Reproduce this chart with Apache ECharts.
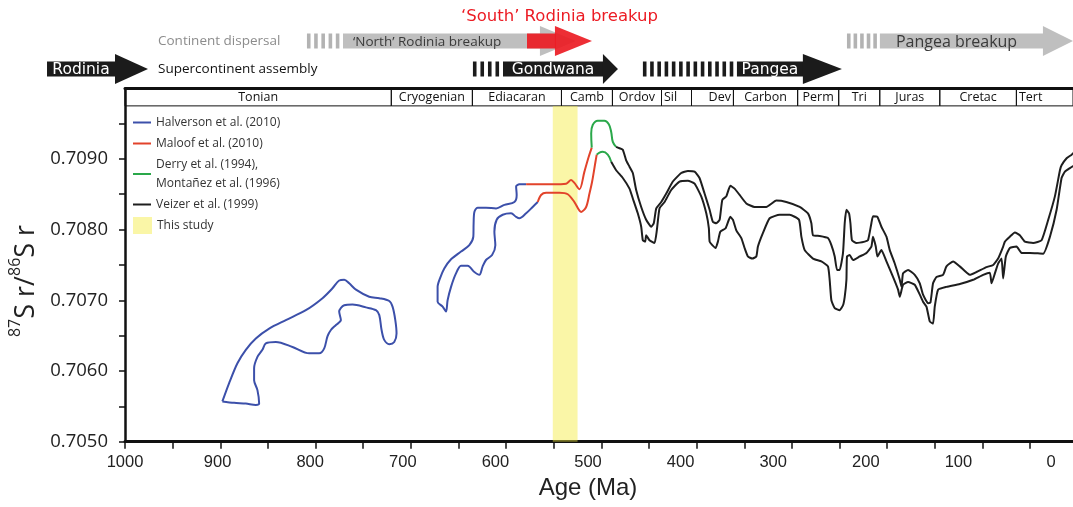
<!DOCTYPE html>
<html>
<head>
<meta charset="utf-8">
<script src="https://cdn.jsdelivr.net/npm/echarts@6/dist/echarts.min.js"></script>
<style>
  html, body { margin: 0; padding: 0; background: #fff; }
  #main { width: 1073px; height: 507px; }
</style>
</head>
<body>
<div id="main"></div>
<script>
// age (Ma), 87Sr/86Sr
const halversonA = [[897.8,0.70557],[890.7,0.70583],[882.0,0.70611],[873.2,0.70630],[862.7,0.70646],[848.7,0.70660],[831.2,0.70672],[810.2,0.70686],[792.7,0.70703],[782.2,0.70717],[775.2,0.70728],[769.9,0.70729],[764.7,0.70724],[757.6,0.70715],[743.7,0.70705],[733.1,0.70703],[722.6,0.70699],[719.2,0.70691],[716.3,0.70672],[715.0,0.70653],[717.4,0.70641],[722.6,0.70638],[727.9,0.70644],[730.7,0.70658],[733.1,0.70679],[736.6,0.70686],[747.1,0.70690],[761.2,0.70694],[769.9,0.70693],[775.2,0.70684],[773.4,0.70672],[778.6,0.70665],[783.9,0.70658],[787.5,0.70649],[790.9,0.70632],[796.2,0.70625],[806.7,0.70625],[824.2,0.70634],[841.7,0.70641],[852.2,0.70639],[855.8,0.70630],[861.0,0.70620],[864.5,0.70604],[864.5,0.70587],[861.0,0.70573],[859.2,0.70554],[862.7,0.70552],[873.2,0.70554],[885.5,0.70555],[897.8,0.70557]];
const halversonB = [[579.0,0.70864],[586.1,0.70864],[589.5,0.70861],[588.9,0.70849],[591.3,0.70839],[601.8,0.70835],[610.5,0.70830],[621.1,0.70831],[629.9,0.70831],[633.3,0.70825],[634.1,0.70809],[634.4,0.70790],[638.6,0.70778],[647.3,0.70769],[657.8,0.70758],[664.9,0.70745],[669.4,0.70731],[671.9,0.70719],[671.9,0.70710],[671.9,0.70698],[666.6,0.70691],[663.1,0.70684],[661.4,0.70700],[657.8,0.70719],[652.6,0.70738],[647.3,0.70749],[640.4,0.70749],[633.3,0.70740],[628.1,0.70736],[624.6,0.70748],[621.1,0.70757],[614.7,0.70764],[611.3,0.70778],[612.3,0.70797],[609.9,0.70814],[603.6,0.70821],[594.8,0.70823],[589.5,0.70818],[586.1,0.70816],[579.0,0.70823],[572.1,0.70832],[566.8,0.70839]];
const maloofUpper = [[579.0,0.70864],[551.1,0.70864],[537.0,0.70865],[531.8,0.70870],[528.3,0.70866],[523.0,0.70857],[517.8,0.70882],[513.3,0.70903],[510.1,0.70916]];
const maloofLower = [[566.8,0.70839],[563.3,0.70849],[558.0,0.70852],[544.0,0.70852],[535.3,0.70850],[528.3,0.70839],[521.2,0.70825],[516.0,0.70832],[512.5,0.70851],[509.7,0.70868],[506.2,0.70896],[504.9,0.70906]];
const derryUpper = [[510.1,0.70916],[510.7,0.70936],[509.1,0.70948],[503.8,0.70954],[496.8,0.70954],[492.2,0.70949],[489.7,0.70938],[488.0,0.70924],[484.5,0.70917]];
const derryLower = [[504.9,0.70906],[502.0,0.70909],[498.6,0.70910],[493.3,0.70906],[489.7,0.70896]];
const veizerUpper = [[484.5,0.70917],[481.0,0.70915],[477.5,0.70913],[474.0,0.70898],[470.5,0.70889],[467.0,0.70880],[463.5,0.70856],[458.2,0.70832],[453.0,0.70814],[447.7,0.70804],[445.0,0.70809],[442.4,0.70830],[437.2,0.70839],[431.9,0.70851],[425.0,0.70868],[416.2,0.70880],[409.2,0.70883],[402.2,0.70882],[397.0,0.70873],[391.7,0.70851],[386.4,0.70828],[383.0,0.70811],[379.4,0.70809],[375.9,0.70814],[373.1,0.70842],[368.9,0.70847],[364.7,0.70862],[360.2,0.70858],[354.9,0.70849],[347.9,0.70837],[339.2,0.70832],[326.9,0.70832],[316.4,0.70841],[305.9,0.70839],[291.9,0.70832],[283.2,0.70823],[279.6,0.70809],[277.9,0.70792],[270.9,0.70791],[262.2,0.70788],[258.6,0.70778],[255.1,0.70762],[252.7,0.70743],[249.9,0.70743],[246.4,0.70767],[244.6,0.70809],[242.8,0.70828],[240.1,0.70823],[238.6,0.70809],[237.0,0.70785],[232.3,0.70781],[223.6,0.70783],[220.1,0.70785],[216.6,0.70809],[214.9,0.70819],[210.3,0.70818],[206.1,0.70804],[200.8,0.70790],[197.3,0.70771],[192.1,0.70752],[186.8,0.70729],[185.0,0.70719],[183.4,0.70738],[178.1,0.70743],[171.1,0.70736],[165.8,0.70724],[162.4,0.70708],[157.1,0.70696],[154.6,0.70697],[151.9,0.70724],[148.3,0.70733],[141.4,0.70736],[137.8,0.70748],[130.8,0.70755],[123.8,0.70748],[113.3,0.70736],[106.3,0.70740],[95.8,0.70747],[88.8,0.70750],[83.6,0.70759],[78.3,0.70776],[76.5,0.70783],[71.3,0.70790],[66.0,0.70796],[60.8,0.70792],[55.5,0.70783],[46.8,0.70781],[38.0,0.70785],[31.0,0.70814],[24.0,0.70847],[18.7,0.70884],[17.0,0.70891],[11.7,0.70901],[6.4,0.70906],[0,0.70914]];
const veizerLower = [[489.7,0.70896],[484.5,0.70884],[477.5,0.70873],[470.5,0.70858],[467.0,0.70844],[461.8,0.70823],[458.2,0.70804],[456.5,0.70785],[454.0,0.70783],[453.0,0.70792],[449.5,0.70785],[444.2,0.70781],[441.8,0.70799],[439.0,0.70830],[433.7,0.70839],[426.7,0.70856],[418.0,0.70868],[409.2,0.70869],[402.2,0.70865],[395.2,0.70847],[389.9,0.70823],[387.2,0.70802],[386.4,0.70783],[383.6,0.70778],[380.1,0.70774],[377.7,0.70783],[375.2,0.70797],[369.6,0.70802],[364.7,0.70818],[362.0,0.70814],[358.4,0.70799],[353.1,0.70788],[349.7,0.70774],[346.2,0.70762],[341.6,0.70759],[337.4,0.70762],[335.7,0.70776],[330.5,0.70795],[323.4,0.70816],[312.9,0.70821],[302.4,0.70821],[292.6,0.70814],[290.1,0.70790],[286.6,0.70771],[277.9,0.70759],[269.1,0.70755],[262.2,0.70748],[260.4,0.70729],[258.6,0.70700],[255.1,0.70689],[249.9,0.70686],[246.4,0.70693],[244.6,0.70705],[242.8,0.70729],[242.2,0.70762],[239.4,0.70764],[235.9,0.70757],[228.9,0.70762],[221.8,0.70767],[216.6,0.70776],[214.9,0.70790],[212.0,0.70776],[210.3,0.70762],[206.1,0.70771],[200.8,0.70755],[193.9,0.70733],[188.6,0.70715],[186.8,0.70705],[183.4,0.70722],[178.1,0.70726],[171.1,0.70722],[165.8,0.70708],[162.4,0.70698],[158.8,0.70691],[155.3,0.70670],[151.9,0.70667],[150.1,0.70691],[146.6,0.70715],[137.8,0.70719],[123.8,0.70723],[109.8,0.70729],[99.3,0.70736],[92.3,0.70739],[90.5,0.70724],[87.0,0.70738],[83.6,0.70752],[80.0,0.70759],[78.3,0.70731],[75.5,0.70762],[71.3,0.70774],[64.2,0.70776],[59.0,0.70767],[50.3,0.70767],[36.3,0.70766],[29.2,0.70790],[22.2,0.70828],[17.0,0.70873],[13.5,0.70882],[8.2,0.70887],[0,0.70894]];

// geological periods (Ma) as drawn in the header row
const periodNames = ['Tonian','Cryogenian','Ediacaran','Camb','Ordov','Sil','Dev','Carbon','Perm','Tri','Juras','Cretac','Tert'];
const periodStart = [1000, 720.5, 635.4, 541.9, 488.4, 436.9, 405.4, 361.4, 294.0, 250.9, 207.8, 144.8, 64.4];
const periodEnd = [720.5, 635.4, 541.9, 488.4, 436.9, 405.4, 361.4, 294.0, 250.9, 207.8, 144.8, 64.4, 0];

const studyBand = [551, 525];

// tectonic arrows: dashed start, solid start, body end, tip (Ma)
const arrowNames = ['Rodinia', 'Gondwana', 'Pangea', "\u2018North\u2019 Rodinia breakup", "\u2018South\u2019 Rodinia breakup", 'Pangea breakup'];
const arrowRows = [1, 1, 1, 0, 0, 0];
const arrowDashStart = [1083, 635.5, 456.9, 809.9, 578.7, 242.5];
const arrowBarStart = [1083, 603.9, 358.1, 772.0, 578.7, 207.9];
const arrowBodyEnd = [1011.6, 498.9, 288.8, 565.1, 549.3, 36.6];
const arrowTip = [976.9, 483.1, 247.8, 527.3, 510.4, 5];
const arrowKinds = ['assembly', 'assembly', 'assembly', 'dispersal', 'south', 'dispersal'];
const rowNames = ['Continent dispersal', 'Supercontinent assembly'];

const xTicks = [50,100,150,200,250,300,350,400,450,500,550,600,650,700,750,800,850,900,950,1000];
const xLabels = [0,100,200,300,400,500,600,700,800,900,1000];
const yTicks = [0.7050,0.7055,0.7060,0.7065,0.7070,0.7075,0.7080,0.7085,0.7090,0.7095];
const yLabels = [0.7050,0.7060,0.7070,0.7080,0.7090];

const SANS = "'Open Sans', 'Noto Sans', sans-serif";
const NARROW = "'Liberation Sans', Arial, sans-serif";
const WIDE = "'DejaVu Sans', sans-serif";

const BLUE = '#3c50aa', RED = '#e2432b', GREEN = '#2aa84a', BLACK = '#1e1e1e';
const YELLOW = 'rgba(245,235,60,0.45)';

const NAMES = {
  hal: 'Halverson et al. (2010)',
  mal: 'Maloof et al. (2010)',
  der: 'Derry et al. (1994),\nMontañez et al. (1996)',
  vei: 'Veizer et al. (1999)',
  study: 'This study'
};

function curve(name, data, color, smooth) {
  return {
    name, type: 'line', data, xAxisIndex: 0, yAxisIndex: 0,
    symbol: 'none', smooth, silent: true, z: 2,
    lineStyle: { color, width: 2 }, itemStyle: { color }
  };
}

const labelPos = { Sil: 'insideLeft', Dev: 'insideRight', Tert: 'insideLeft' };
const periodAreas = periodNames.map((n, i) => [
  { name: n, xAxis: periodStart[i], yAxis: 0.70975,
    label: { position: labelPos[n] || 'inside', distance: 3 } },
  { xAxis: periodEnd[i], yAxis: 0.7100 }
]);

function renderArrow(params, api) {
  const i = params.dataIndex;
  const kind = arrowKinds[i];
  const row = api.value(4);
  const cy = api.coord([api.value(0), row])[1];
  const [xd, xb, xe, xt] = [0, 1, 2, 3].map(d => api.coord([api.value(d), row])[0]);
  const fill = { assembly: '#1b1b1b', dispersal: '#bfbfbf', south: 'rgba(236,28,36,0.92)' }[kind];
  const dashFill = kind === 'assembly' ? '#1b1b1b' : '#b3b3b3';
  const bodyH = 15, headH = 30;
  const children = [];
  const n = Math.round((xb - xd) / 7.2);
  for (let k = 0; k < n; k++) {
    children.push({ type: 'rect', shape: { x: xd + k * (xb - xd) / n, y: cy - bodyH / 2, width: 3.6, height: bodyH }, style: { fill: dashFill } });
  }
  children.push({ type: 'rect', shape: { x: xb, y: cy - bodyH / 2, width: xe - xb + 1, height: bodyH }, style: { fill } });
  children.push({ type: 'polygon', shape: { points: [[xe, cy - headH / 2], [xt, cy], [xe, cy + headH / 2]] }, style: { fill } });
  let text;
  if (kind === 'assembly') {
    text = { text: arrowNames[i], x: (xb + xe) / 2, y: cy + 1, align: 'center', verticalAlign: 'middle', fill: '#fff', fontSize: 15.5, fontFamily: WIDE };
  } else if (kind === 'south') {
    text = { text: arrowNames[i], x: (xb + xt) / 2, y: cy - 24, align: 'center', verticalAlign: 'middle', fill: '#ec1c24', fontSize: 16.5, fontFamily: WIDE };
  } else {
    const big = arrowNames[i] === 'Pangea breakup';
    text = { text: arrowNames[i], x: xb + (big ? 16 : 10), y: cy + 1, align: 'left', verticalAlign: 'middle', fill: '#3a3a3a', fontSize: big ? 16 : 13.5, fontFamily: SANS };
  }
  children.push({ type: 'text', style: text });
  return { type: 'group', children };
}

const legendText = { fontFamily: SANS, fontSize: 12, color: '#333', lineHeight: 19 };

const chart = echarts.init(document.getElementById('main'));
chart.setOption({
  animation: false,
  backgroundColor: '#fff',
  grid: [
    { left: 125, right: 0, top: 88.2, bottom: 65.3, outerBoundsMode: 'none' },
    { left: 0, right: 0, top: 27, height: 56, outerBoundsMode: 'none' },
    { left: 125, right: 22, top: 88.2, bottom: 65.3, outerBoundsMode: 'none' }
  ],
  legend: [
    {
      left: 133, top: 113, orient: 'vertical', padding: 0, icon: 'rect',
      itemWidth: 18, itemHeight: 2, itemGap: 2, selectedMode: false,
      textStyle: legendText,
      data: [NAMES.hal, NAMES.mal, NAMES.der, NAMES.vei]
    },
    {
      left: 133, top: 216, orient: 'vertical', padding: 0, icon: 'rect',
      itemWidth: 19, itemHeight: 17, selectedMode: false,
      textStyle: legendText,
      data: [NAMES.study]
    }
  ],
  xAxis: [
    {
      gridIndex: 0, type: 'value', min: 5, max: 1000, inverse: true, position: 'bottom',
      axisLine: { lineStyle: { color: '#111', width: 3 } },
      axisTick: { customValues: xTicks, length: 7, lineStyle: { color: '#111', width: 1.5 } },
      axisLabel: { show: false }, splitLine: { show: false }
    },
    { gridIndex: 1, type: 'value', min: 5, max: 1132.4, inverse: true, show: false },
    {
      gridIndex: 2, type: 'value', min: 0, max: 1000, inverse: true,
      axisLine: { show: false }, axisTick: { show: false }, splitLine: { show: false },
      axisLabel: { customValues: xLabels, formatter: v => String(v), margin: 12, fontSize: 16.5, fontFamily: NARROW, color: '#222' },
      name: 'Age (Ma)', nameLocation: 'middle', nameGap: 35,
      nameTextStyle: { fontSize: 24, fontFamily: NARROW, color: '#222' }
    },
    {
      gridIndex: 0, type: 'value', min: 5, max: 1000, inverse: true, position: 'top',
      axisLine: { lineStyle: { color: '#111', width: 3 } },
      axisTick: { show: false }, axisLabel: { show: false }, splitLine: { show: false }
    }
  ],
  yAxis: [
    {
      gridIndex: 0, type: 'value', min: 0.705, max: 0.710,
      axisLine: { show: true, lineStyle: { color: '#111', width: 2.5 } },
      axisTick: { show: true, customValues: yTicks, length: 6, lineStyle: { color: '#111', width: 1.5 } },
      axisLabel: { customValues: yLabels, formatter: v => v.toFixed(4), fontSize: 18.5, fontFamily: SANS, color: '#222', margin: 17 },
      splitLine: { show: false },
      name: '{sup|87}{big|S r/}{sup|86}{big|S r}', nameLocation: 'middle', nameRotate: 90, nameGap: 83,
      nameTextStyle: {
        color: '#222', padding: [0, 32, 0, 0],
        rich: {
          sup: { fontSize: 16, fontFamily: SANS, color: '#222', verticalAlign: 'top', lineHeight: 32 },
          big: { fontSize: 27, fontFamily: SANS, color: '#222', verticalAlign: 'bottom', lineHeight: 32 }
        }
      }
    },
    {
      gridIndex: 1, type: 'category', inverse: true,
      data: [
        { value: rowNames[0], textStyle: { color: '#8c8c8c' } },
        { value: rowNames[1], textStyle: { color: '#111' } }
      ],
      axisLine: { show: false }, axisTick: { show: false }, splitLine: { show: false },
      axisLabel: { inside: true, margin: 158, fontSize: 13.5, fontFamily: SANS }
    },
    { gridIndex: 2, type: 'value', min: 0, max: 1, show: false }
  ],
  series: [
    curve(NAMES.hal, halversonA, BLUE, 0.3),
    curve(NAMES.hal, halversonB, BLUE, 0.3),
    curve(NAMES.mal, maloofUpper, RED, 0.3),
    curve(NAMES.mal, maloofLower, RED, 0.3),
    curve(NAMES.der, derryUpper, GREEN, 0.4),
    curve(NAMES.der, derryLower, GREEN, 0.4),
    curve(NAMES.vei, veizerUpper, BLACK, 0.15),
    curve(NAMES.vei, veizerLower, BLACK, 0.15),
    {
      type: 'line', data: [], xAxisIndex: 0, yAxisIndex: 0, silent: true, z: 3,
      markArea: {
        silent: true,
        itemStyle: { color: 'rgba(0,0,0,0)', borderColor: '#111', borderWidth: 1 },
        label: { show: true, position: 'inside', color: '#111', fontSize: 12.5, fontFamily: SANS },
        data: periodAreas
      }
    },
    {
      name: NAMES.study, type: 'line', data: [], xAxisIndex: 0, yAxisIndex: 0, silent: true, z: 5,
      itemStyle: { color: YELLOW },
      markArea: {
        silent: true, itemStyle: { color: YELLOW },
        data: [[{ xAxis: studyBand[0], yAxis: 0.705 }, { xAxis: studyBand[1], yAxis: 0.70975 }]]
      }
    },
    {
      type: 'custom', xAxisIndex: 1, yAxisIndex: 1, silent: true, z: 3, clip: false,
      encode: { x: [0, 1, 2, 3], y: 4 },
      data: arrowRows.map((r, i) => [arrowDashStart[i], arrowBarStart[i], arrowBodyEnd[i], arrowTip[i], r]),
      renderItem: renderArrow
    }
  ]
});
</script>
</body>
</html>
